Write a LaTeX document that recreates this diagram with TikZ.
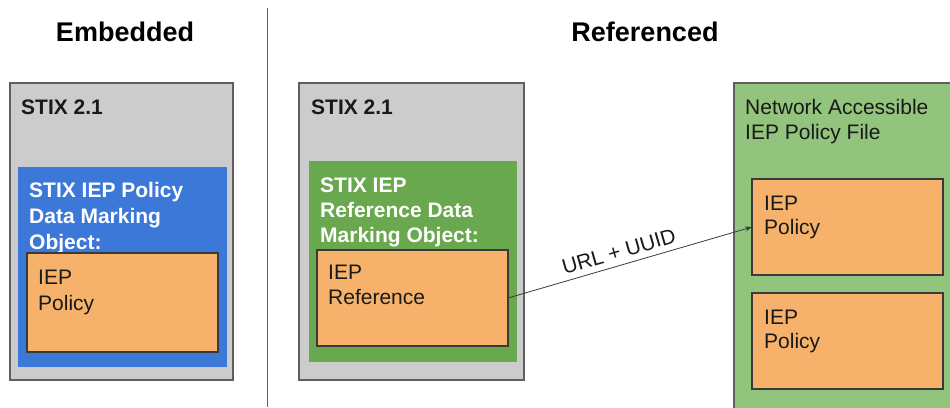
\documentclass[tikz,border=0pt]{standalone}
\usepackage{fontspec}
\setmainfont{Liberation Sans}
\usetikzlibrary{arrows.meta,positioning}
\definecolor{stixgrey}{HTML}{CCCCCC}
\definecolor{embblue}{HTML}{3C78D8}
\definecolor{refgreen}{HTML}{6AA84F}
\definecolor{netgreen}{HTML}{93C47D}
\definecolor{iepor}{HTML}{F6B26B}
\definecolor{edgegrey}{HTML}{5F5F5F}
\definecolor{darkedge}{HTML}{3A3A3A}

\begin{document}
\begin{tikzpicture}[x=1pt,y=-1pt,
  box/.style={draw=edgegrey,line width=1.2pt,inner sep=0pt,outer sep=0pt},
  inbox/.style={inner sep=0pt,outer sep=0pt},
  iep/.style={draw=darkedge,line width=1.2pt,fill=iepor,inner sep=0pt,outer sep=0pt,minimum width=191pt,minimum height=96pt},
  txt/.style={anchor=north west,inner sep=0pt,align=left,text=black!90,font=\fontsize{21}{26}\selectfont},
  hd/.style={txt,font=\bfseries\fontsize{21}{26}\selectfont},
  ttl/.style={font=\bfseries\fontsize{27}{32}\selectfont}]
\clip (0,0) rectangle (950,407);
\node[ttl] (ttlA) at (125,32) {Embedded};
\node[ttl] (ttlB) at (645,32) {Referenced};
\coordinate (divtop) at (267,8);
\coordinate (divbot) at (267,407);
\draw[edgegrey,line width=1pt] (divtop) -- (divbot);
% embedded side
\node[box,fill=stixgrey,minimum width=223pt,minimum height=297pt] (stixA) at (121.5,231.5) {};
\node[hd] (stixAtxt) at (21,99.5) {STIX 2.1};
\node[inbox,fill=embblue,minimum width=209pt,minimum height=200pt] (markA) at (122.5,267) {};
\node[hd,text=white] (markAtxt) at (29,182.5) {STIX IEP Policy\\Data Marking\\Object:};
\node[iep,minimum height=99pt] (polA) at (122.5,302.5) {};
\node[txt] (polAtxt) at (38,269.5) {IEP\\Policy};
% referenced side
\node[box,fill=stixgrey,minimum width=225pt,minimum height=297pt] (stixB) at (411.5,231.5) {};
\node[hd] (stixBtxt) at (311,99.5) {STIX 2.1};
\node[inbox,fill=refgreen,minimum width=208pt,minimum height=201pt] (markB) at (413,261.5) {};
\node[hd,text=white,font=\bfseries\fontsize{21}{25}\selectfont] (markBtxt) at (320,177.5) {STIX IEP\\Reference Data\\Marking Object:};
\node[iep] (refB) at (412.5,298) {};
\node[txt,font=\fontsize{21}{25}\selectfont] (refBtxt) at (328,264.5) {IEP\\Reference};
\node[box,fill=netgreen,minimum width=226pt,minimum height=337pt] (netfile) at (847,251.5) {};
\node[txt,font=\fontsize{21}{25}\selectfont] (netfiletxt) at (745,99.5) {Network Accessible\\IEP Policy File};
\node[iep] (polC) at (847.5,227) {};
\node[txt,font=\fontsize{21}{24}\selectfont] (polCtxt) at (764,195.5) {IEP\\Policy};
\node[iep] (polD) at (847.5,341) {};
\node[txt,font=\fontsize{21}{24}\selectfont] (polDtxt) at (764,309.5) {IEP\\Policy};
\draw[-{Stealth[length=7pt,width=5pt]},darkedge,line width=0.8pt] (refB.east) to node[pos=0.47,above,sloped,inner sep=6pt,font=\fontsize{21}{24}\selectfont,text=black!90] (urllbl) {URL + UUID} (polC.west);
\end{tikzpicture}
\end{document}
